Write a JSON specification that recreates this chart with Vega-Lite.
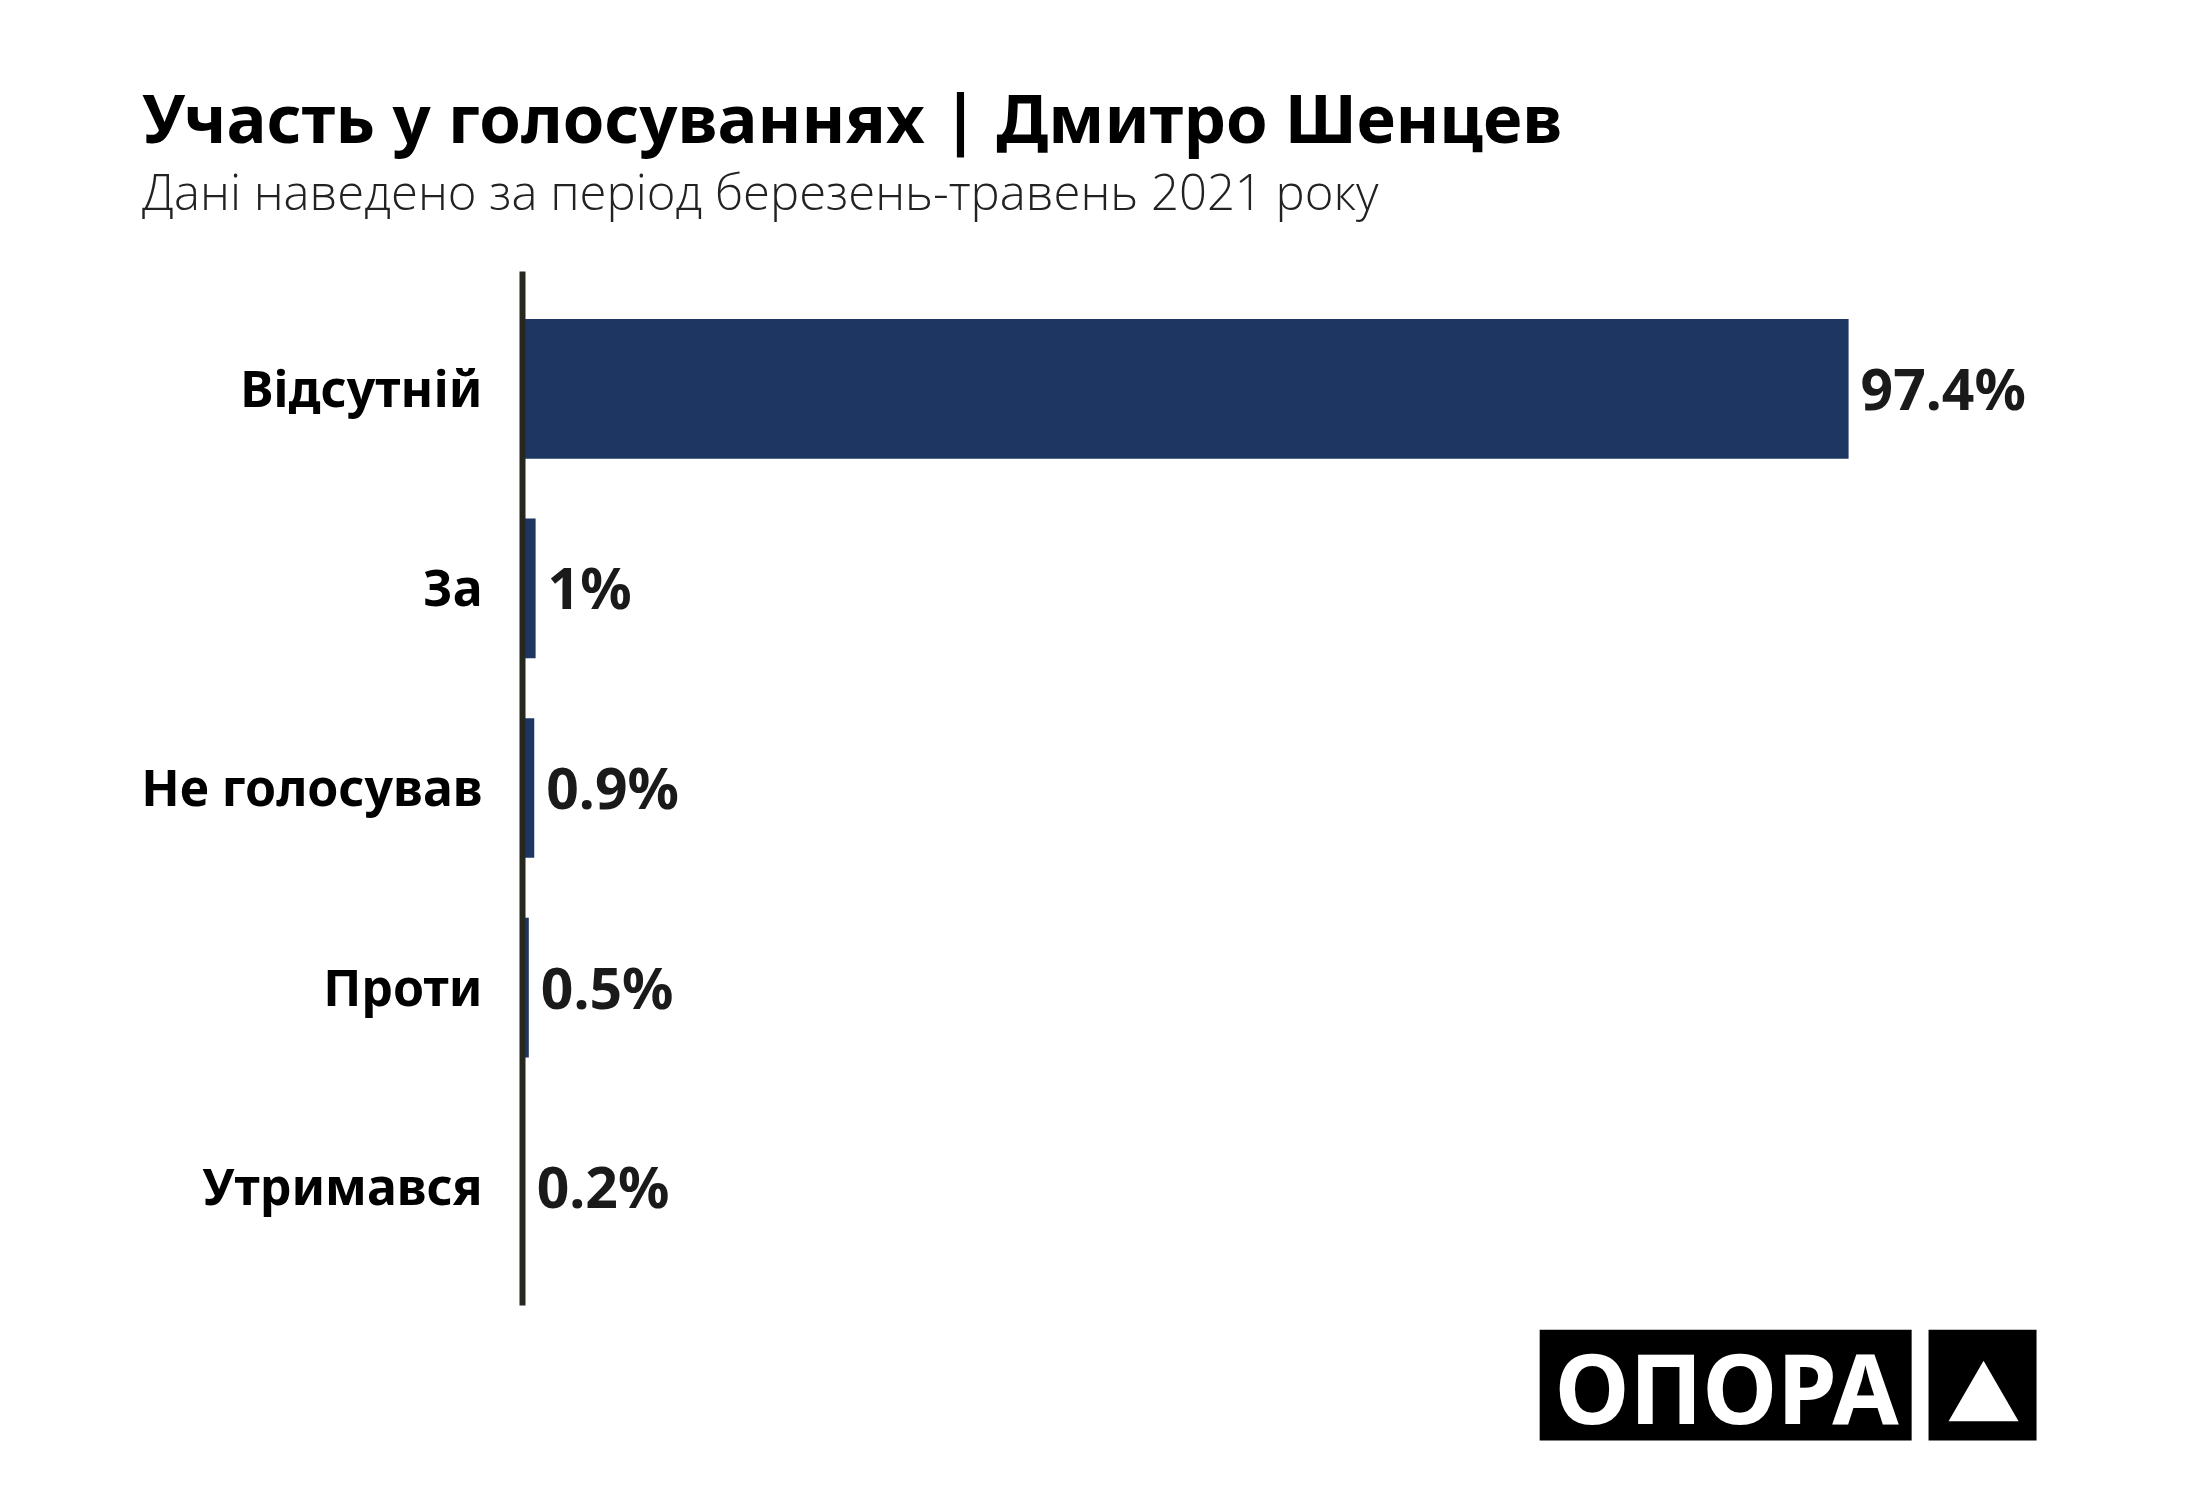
{
  "$schema": "https://vega.github.io/schema/vega-lite/v6.json",
  "autosize": {"type": "none"},
  "padding": {"left": 522, "top": 271, "right": 316, "bottom": 195},
  "width": 1362,
  "height": 1034,
  "background": "#ffffff",
  "config": {"view": {"stroke": null}},
  "title": {
    "text": "Участь у голосуваннях | Дмитро Шенцев",
    "subtitle": "Дані наведено за період березень-травень 2021 року",
    "anchor": "start",
    "frame": "group",
    "dx": -380,
    "offset": 50,
    "baseline": "top",
    "font": "Noto Sans",
    "fontSize": 67,
    "fontWeight": "bold",
    "color": "#000000",
    "subtitleFont": "Open Sans",
    "subtitleFontSize": 49,
    "subtitleFontWeight": 300,
    "subtitleColor": "#222222",
    "subtitlePadding": 14
  },
  "layer": [
    {
      "data": {
        "values": [
          {"category": "Відсутній", "value": 97.4},
          {"category": "За", "value": 1},
          {"category": "Не голосував", "value": 0.9},
          {"category": "Проти", "value": 0.5},
          {"category": "Утримався", "value": 0.2}
        ]
      },
      "transform": [{"calculate": "datum.value + '%'", "as": "label"}],
      "encoding": {
        "y": {
          "field": "category",
          "type": "nominal",
          "sort": null,
          "scale": {"paddingInner": 0.3, "paddingOuter": 0.24},
          "axis": {
            "title": null,
            "ticks": false,
            "grid": false,
            "domain": true,
            "domainColor": "#262820",
            "domainWidth": 6,
            "zindex": 1,
            "labelFont": "Noto Sans",
            "labelFontWeight": "bold",
            "labelFontSize": 50,
            "labelColor": "#000000",
            "labelPadding": 40,
            "labelLimit": 1000,
            "labelBaseline": "alphabetic",
            "labelOffset": 18
          }
        },
        "x": {
          "field": "value",
          "type": "quantitative",
          "scale": {"domain": [0, 100], "nice": false},
          "axis": null
        }
      },
      "layer": [
        {"mark": {"type": "bar", "color": "#1e3662"}},
        {
          "mark": {
            "type": "text",
            "align": "left",
            "baseline": "alphabetic",
            "dx": 12,
            "dy": 21,
            "font": "Noto Sans",
            "fontWeight": "bold",
            "fontSize": 57,
            "color": "#1a1a1a"
          },
          "encoding": {"text": {"field": "label", "type": "nominal"}}
        }
      ]
    },
    {
      "data": {"values": [{"brand": "ОПОРА"}]},
      "layer": [
        {
          "mark": {"type": "rect", "color": "#000000"},
          "encoding": {
            "x": {"datum": 74.72, "type": "quantitative", "scale": {"domain": [0, 100], "nice": false}, "axis": null},
            "x2": {"datum": 102.03},
            "y": {"datum": 1.024, "type": "quantitative", "scale": {"domain": [0, 1], "reverse": true, "nice": false}, "axis": null},
            "y2": {"datum": 1.131}
          }
        },
        {
          "mark": {"type": "rect", "color": "#000000"},
          "encoding": {
            "x": {"datum": 103.27, "type": "quantitative", "scale": {"domain": [0, 100], "nice": false}, "axis": null},
            "x2": {"datum": 111.2},
            "y": {"datum": 1.024, "type": "quantitative", "scale": {"domain": [0, 1], "reverse": true, "nice": false}, "axis": null},
            "y2": {"datum": 1.131}
          }
        },
        {
          "mark": {
            "type": "text",
            "align": "center",
            "baseline": "alphabetic",
            "font": "Noto Sans",
            "fontWeight": "bold",
            "fontSize": 96,
            "color": "#ffffff"
          },
          "encoding": {
            "x": {"datum": 88.45, "type": "quantitative", "scale": {"domain": [0, 100], "nice": false}, "axis": null},
            "y": {"datum": 1.1151, "type": "quantitative", "scale": {"domain": [0, 1], "reverse": true, "nice": false}, "axis": null},
            "text": {"field": "brand", "type": "nominal"}
          }
        },
        {
          "mark": {"type": "point", "shape": "triangle-up", "filled": true, "color": "#ffffff", "opacity": 1, "size": 4900},
          "encoding": {
            "x": {"datum": 107.31, "type": "quantitative", "scale": {"domain": [0, 100], "nice": false}, "axis": null},
            "y": {"datum": 1.0832, "type": "quantitative", "scale": {"domain": [0, 1], "reverse": true, "nice": false}, "axis": null}
          }
        }
      ]
    }
  ],
  "resolve": {"scale": {"x": "independent", "y": "independent"}}
}
